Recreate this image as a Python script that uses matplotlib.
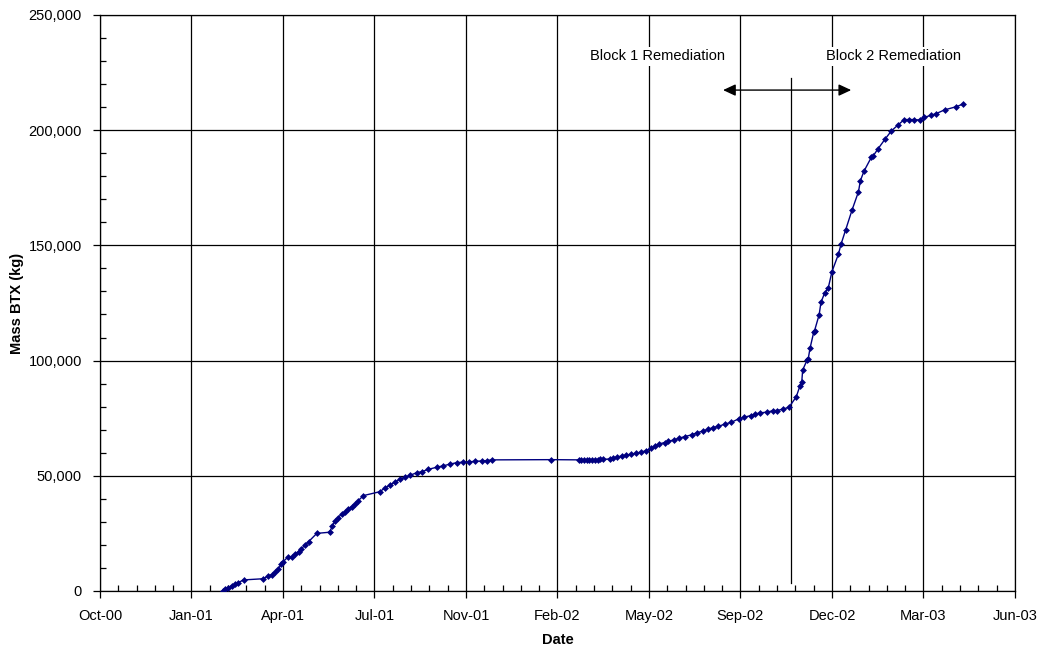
import pandas as pd
import matplotlib
matplotlib.use("Agg")
import matplotlib.pyplot as plt
import matplotlib.dates as mdates
from matplotlib.ticker import FixedLocator, MultipleLocator, StrMethodFormatter

plt.rcParams['font.family'] = ['Liberation Sans', 'DejaVu Sans']

# hari sejak 1 Okt 2000 dan massa BTX kumulatif (kg)
start = pd.Timestamp("2000-10-01")
days = [134, 137, 140, 144, 148, 151, 157, 178, 184, 188, 191, 195, 198, 200,
        205, 210, 213, 217, 220, 224, 228, 237, 251,
        254, 257, 260, 264, 268, 271, 275, 279, 282, 288, 306, 311, 317, 322,
        328, 333, 339, 346, 352, 359, 368, 375, 383, 390, 397, 403, 410, 417,
        423, 428,
        493, 523, 526, 529, 532, 535, 538, 541, 544, 547, 550,
        557, 561, 565, 570, 575, 580, 586, 591, 597, 602, 607, 611, 617, 621,
        627, 633, 639, 647, 652, 659, 665, 670, 676, 683, 690, 698, 704, 711,
        716, 721, 729, 736, 740, 747, 753,
        761, 765, 767, 768, 773, 774, 776, 780, 781, 786, 788, 792, 796, 800,
        807, 810, 815, 822, 829, 831, 835, 843, 845, 850, 858, 865, 872, 879,
        884, 890, 896, 901, 908, 914, 923, 936, 943]
mass = [0, 700, 1400, 2300, 2900, 3600, 4800, 5300, 6500, 7100, 8100, 9500,
        11700, 12600, 14600, 14600, 15900, 17100, 18200, 20000, 21400, 25000,
        25500,
        28200, 30500, 31800, 33300, 34400, 35600, 36600, 37600, 39100, 41400,
        43100, 44600, 46000, 47200, 48500, 49300, 50200, 51300, 51800, 52800,
        53700, 54300, 55100, 55700, 55900, 56000, 56300, 56400, 56600, 56900,
        57000, 56900, 56900, 57000, 57000, 57000, 57000, 57000, 57000, 57100,
        57100,
        57300, 57700, 58200, 58500, 58900, 59300, 59800, 60200, 60900, 61900,
        62900, 63800, 64400, 65000, 65500, 66300, 67000, 67800, 68600, 69400,
        70200, 70900, 71500, 72400, 73200, 74700, 75400, 76100, 76700, 77300,
        77600, 78300, 78300, 79000, 79700,
        84300, 89000, 90800, 95900, 100400, 100600, 105300, 112200, 113000,
        119900, 125300, 129300, 131600, 138600, 146100, 150600, 156800, 165400,
        173300, 178000, 182200, 188200, 188800, 191700, 196100, 199700, 202200,
        204600, 204600, 204600, 204400, 205600, 206400, 207200, 208800, 210200,
        211300]

# posisi anotasi remediasi (hari sejak awal, kg)
block1_day, block2_day = 609, 867
label_mass = 232000
arrow_days = (681, 821)
arrow_mass = 217400
switch_day = 755
switch_mass = (3500, 222700)

tanggal = start + pd.to_timedelta(days, unit="D")

fig = plt.figure(figsize=(10.38, 6.48), dpi=100)
ax = fig.add_axes([0.0963, 0.088, 0.8815, 0.8889])

ax.plot(tanggal, mass, color="#000080", linewidth=1, marker="D",
        markersize=3.5, markeredgewidth=0, zorder=3)

# sumbu x: tick setiap 100 hari seperti grafik Excel
x0 = mdates.date2num(start)
ax.set_xlim(x0, x0 + 1000)
ax.xaxis.set_major_locator(FixedLocator([x0 + 100 * i for i in range(11)]))
ax.xaxis.set_minor_locator(FixedLocator([x0 + 20 * i for i in range(51)]))
ax.xaxis.set_major_formatter(mdates.DateFormatter("%b-%y"))

ax.set_ylim(0, 250000)
ax.yaxis.set_major_locator(MultipleLocator(50000))
ax.yaxis.set_minor_locator(MultipleLocator(10000))
ax.yaxis.set_major_formatter(StrMethodFormatter("{x:,.0f}"))

ax.grid(True, which="major", color="black", linewidth=0.9)
ax.set_axisbelow(True)
ax.tick_params(which="major", direction="out", length=5, width=0.9,
               labelsize=10.5, pad=8)
ax.tick_params(which="minor", direction="in", length=4, width=0.9)
for s in ax.spines.values():
    s.set_linewidth(0.9)

ax.set_xlabel("Date", fontsize=10.5, fontweight="bold", labelpad=7)
ax.set_ylabel("Mass BTX (kg)", fontsize=10.5, fontweight="bold", labelpad=3)

# label blok remediasi
for d, teks in [(block1_day, "Block 1 Remediation"), (block2_day, "Block 2 Remediation")]:
    ax.text(x0 + d, label_mass, teks, ha="center", va="center", fontsize=10.5,
            bbox=dict(facecolor="white", edgecolor="none", pad=2), zorder=4)

ax.annotate("", xy=(x0 + arrow_days[0], arrow_mass),
            xytext=(x0 + arrow_days[1], arrow_mass),
            arrowprops=dict(arrowstyle="<|-|>,head_length=0.75,head_width=0.35",
                            color="black", lw=1, mutation_scale=10,
                            shrinkA=0, shrinkB=0), zorder=4)
ax.plot([x0 + switch_day, x0 + switch_day], switch_mass, color="black",
        linewidth=0.9, zorder=2)

plt.savefig("out.png", dpi=100)
